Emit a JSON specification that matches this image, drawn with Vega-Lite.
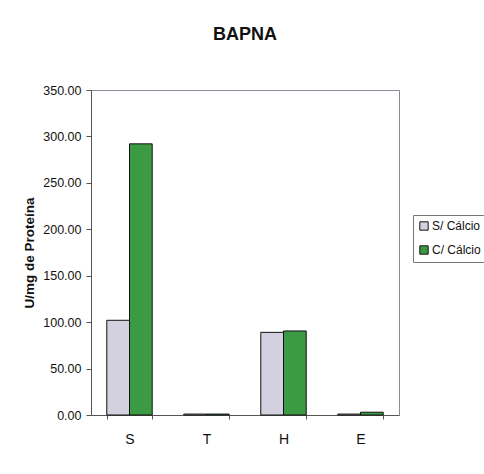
{
  "$schema": "https://vega.github.io/schema/vega-lite/v6.json",
  "autosize": "none",
  "width": 308,
  "height": 325,
  "padding": {"left": 91, "top": 90, "right": 85, "bottom": 59},
  "background": "white",
  "title": {
    "text": "BAPNA",
    "font": "Liberation Sans",
    "fontSize": 18,
    "fontWeight": "bold",
    "color": "#111111",
    "anchor": "middle",
    "frame": "group",
    "baseline": "alphabetic",
    "offset": 26
  },
  "data": {
    "values": [
      {"amostra": "S", "condicao": "S/ Cálcio", "atividade": 102.0},
      {"amostra": "S", "condicao": "C/ Cálcio", "atividade": 292.0},
      {"amostra": "T", "condicao": "S/ Cálcio", "atividade": 1.0},
      {"amostra": "T", "condicao": "C/ Cálcio", "atividade": 1.0},
      {"amostra": "H", "condicao": "S/ Cálcio", "atividade": 89.0},
      {"amostra": "H", "condicao": "C/ Cálcio", "atividade": 90.5},
      {"amostra": "E", "condicao": "S/ Cálcio", "atividade": 1.0},
      {"amostra": "E", "condicao": "C/ Cálcio", "atividade": 3.0}
    ]
  },
  "mark": {"type": "bar", "stroke": "#111111", "strokeWidth": 1},
  "encoding": {
    "x": {
      "field": "amostra",
      "type": "nominal",
      "sort": ["S", "T", "H", "E"],
      "scale": {"paddingInner": 0.41, "paddingOuter": 0.205},
      "axis": {
        "title": null,
        "labelAngle": 0,
        "labelFont": "Liberation Sans",
        "labelFontSize": 14,
        "labelColor": "#111111",
        "labelPadding": 13,
        "tickBand": "extent",
        "tickSize": 4,
        "tickColor": "#555555",
        "domainColor": "#555555"
      }
    },
    "xOffset": {
      "field": "condicao",
      "type": "nominal",
      "sort": ["S/ Cálcio", "C/ Cálcio"]
    },
    "y": {
      "field": "atividade",
      "type": "quantitative",
      "scale": {"domain": [0, 350], "nice": false},
      "axis": {
        "title": "U/mg de Proteína",
        "titleFont": "Liberation Sans",
        "titleFontSize": 13.5,
        "titleFontWeight": "bold",
        "titleColor": "#111111",
        "titlePadding": 6,
        "values": [0, 50, 100, 150, 200, 250, 300, 350],
        "format": ".2f",
        "labelFont": "Liberation Sans",
        "labelFontSize": 12.5,
        "labelColor": "#111111",
        "labelPadding": 5,
        "tickSize": 5,
        "tickColor": "#555555",
        "domainColor": "#555555",
        "grid": false
      }
    },
    "color": {
      "field": "condicao",
      "type": "nominal",
      "sort": ["S/ Cálcio", "C/ Cálcio"],
      "scale": {"domain": ["S/ Cálcio", "C/ Cálcio"], "range": ["#d3d1e0", "#3c9a44"]},
      "legend": {
        "title": null,
        "orient": "none",
        "legendX": 322,
        "legendY": 125,
        "symbolType": "square",
        "symbolSize": 70,
        "symbolStrokeColor": "#111111",
        "symbolStrokeWidth": 1,
        "labelFont": "Liberation Sans",
        "labelFontSize": 12,
        "labelColor": "#111111",
        "labelOffset": 2,
        "rowPadding": 10,
        "padding": 5,
        "strokeColor": "#777777",
        "fillColor": "white"
      }
    }
  },
  "config": {
    "view": {"stroke": "#8a8a9a", "strokeWidth": 1}
  }
}
